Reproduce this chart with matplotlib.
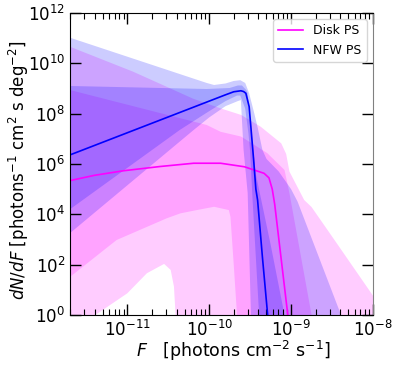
import numpy as np
import matplotlib
matplotlib.use("Agg")
import matplotlib.pyplot as plt

# readings in log10 space: F [photons cm^-2 s^-1], dN/dF
# NFW PS median and bands
nfw_med_logF = [-11.70, -9.80, -9.70, -9.613, -9.58, -9.552, -9.512, -9.491, -9.458, -9.43, -9.409, -9.35, -9.286, -9.22]
nfw_med_logY = [6.36, 8.75, 8.87, 8.91, 8.88, 8.81, 8.28, 7.48, 6.20, 5.00, 4.57, 2.30, 0.00, -2.8]

nfw68_up_logF = [-11.70, -10.03, -9.75, -9.65, -9.60, -9.55, -9.53, -9.50, -9.47, -9.43, -9.39, -9.25, -9.08, -9.00]
nfw68_up_logY = [9.10, 8.98, 9.02, 9.12, 9.12, 8.95, 8.81, 7.90, 6.82, 5.60, 4.97, 2.80, 0.00, -1.3]
nfw68_lo_logF = [-11.70, -10.36, -10.00, -9.80, -9.66, -9.62, -9.56, -9.52, -9.50, -9.47, -9.39, -9.37]
nfw68_lo_logY = [4.20, 7.35, 8.10, 8.50, 8.72, 8.72, 8.20, 7.20, 6.50, 4.57, 0.00, -2.0]

nfw95_up_logF = [-11.70, -10.03, -9.94, -9.80, -9.70, -9.62, -9.56, -9.512, -9.45, -9.41, -9.35, -9.30, -9.15, -9.00, -8.92, -8.39, -8.20]
nfw95_up_logY = [11.02, 9.22, 9.14, 9.20, 9.30, 9.33, 9.22, 8.81, 8.02, 7.48, 6.56, 6.20, 5.70, 5.00, 4.50, 0.00, -1.6]
nfw95_lo_logF = [-11.70, -10.19, -10.00, -9.80, -9.65, -9.613, -9.58, -9.53, -9.49, -9.47]
nfw95_lo_logY = [3.25, 7.35, 7.85, 8.30, 8.50, 8.54, 6.56, 4.85, 0.00, -2.0]

# Disk PS median and bands
disk_med_logF = [-11.70, -11.40, -11.05, -10.60, -10.19, -9.86, -9.57, -9.33, -9.27, -9.23, -9.20, -9.04, -8.95]
disk_med_logY = [5.34, 5.55, 5.73, 5.90, 6.03, 6.03, 5.89, 5.63, 5.45, 5.00, 4.40, 0.00, -2.0]

disk68_up_logF = [-11.70, -10.03, -9.86, -9.61, -9.29, -9.08, -9.02, -8.75, -8.65]
disk68_up_logY = [8.94, 7.55, 7.28, 7.09, 6.43, 5.76, 4.84, 0.00, -1.5]
disk68_lo_logF = [-11.70, -11.13, -10.52, -10.35, -10.15, -9.94, -9.76, -9.74, -9.70, -9.66, -9.64]
disk68_lo_logY = [1.51, 2.98, 3.84, 4.04, 4.17, 4.30, 4.17, 3.90, 2.00, 0.00, -2.0]

disk95_up_logF = [-11.70, -10.93, -10.52, -10.20, -9.86, -9.61, -9.37, -9.12, -9.06, -9.02, -8.84, -8.75, -8.47, -7.99, -7.90]
disk95_up_logY = [10.66, 9.67, 9.07, 8.60, 8.21, 7.95, 7.48, 6.82, 6.40, 5.70, 4.57, 4.29, 2.98, 0.72, 0.50]
disk95_lo_logF = [-11.70, -11.45, -11.39, -11.00, -10.76, -10.55, -10.47, -10.43, -10.41, -10.40, -7.90]
disk95_lo_logY = [-2.0, -0.4, 0.00, 0.86, 1.66, 2.03, 1.79, 1.13, 0.00, -2.0, -2.0]

disk_color = '#ff00ff'
nfw_color = '#0000ff'


def band(ax, up_x, up_y, lo_x, lo_y, color, alpha=0.2):
    # polygon: upper edge left->right, lower edge right->left
    xs = np.concatenate([up_x, lo_x[::-1]])
    ys = np.concatenate([up_y, lo_y[::-1]])
    ax.fill(10.0 ** xs, 10.0 ** ys, color=color, alpha=alpha, lw=0)


def main():
    fig = plt.figure(figsize=(3.99, 3.66), dpi=100)
    ax = fig.add_axes([70/399, 1 - 315/366, 303/399, 302/366])
    ax.set_xscale('log')
    ax.set_yscale('log')

    band(ax, np.array(disk95_up_logF), np.array(disk95_up_logY),
         np.array(disk95_lo_logF), np.array(disk95_lo_logY), disk_color)
    band(ax, np.array(disk68_up_logF), np.array(disk68_up_logY),
         np.array(disk68_lo_logF), np.array(disk68_lo_logY), disk_color)
    band(ax, np.array(nfw95_up_logF), np.array(nfw95_up_logY),
         np.array(nfw95_lo_logF), np.array(nfw95_lo_logY), nfw_color)
    band(ax, np.array(nfw68_up_logF), np.array(nfw68_up_logY),
         np.array(nfw68_lo_logF), np.array(nfw68_lo_logY), nfw_color)

    ax.plot(10.0 ** np.array(disk_med_logF), 10.0 ** np.array(disk_med_logY),
            color=disk_color, lw=1.2, label='Disk PS')
    ax.plot(10.0 ** np.array(nfw_med_logF), 10.0 ** np.array(nfw_med_logY),
            color=nfw_color, lw=1.2, label='NFW PS')

    ax.set_xlim(2e-12, 1e-8)
    ax.set_ylim(1, 1e12)
    ax.set_yticks([10.0 ** k for k in range(0, 13, 2)])
    ax.yaxis.set_minor_locator(matplotlib.ticker.NullLocator())
    ax.tick_params(which='both', direction='in', top=True, right=True, labelsize=12)
    ax.tick_params(which='major', length=8, width=1)
    ax.tick_params(which='minor', length=4, width=0.8)
    ax.spines['right'].set_color('0.5')

    ax.set_xlabel(r'$F$   [photons cm$^{-2}$ s$^{-1}$]', fontsize=12.5)
    ax.xaxis.set_label_coords(0.54, -0.08)
    ax.set_ylabel(r'$dN/dF$ [photons$^{-1}$ cm$^2$ s deg$^{-2}$]', fontsize=12)
    ax.yaxis.set_label_coords(-0.13, 0.48)
    ax.legend(loc='upper right', fontsize=9)

    fig.savefig('out.png', dpi=100)


if __name__ == "__main__":
    main()
